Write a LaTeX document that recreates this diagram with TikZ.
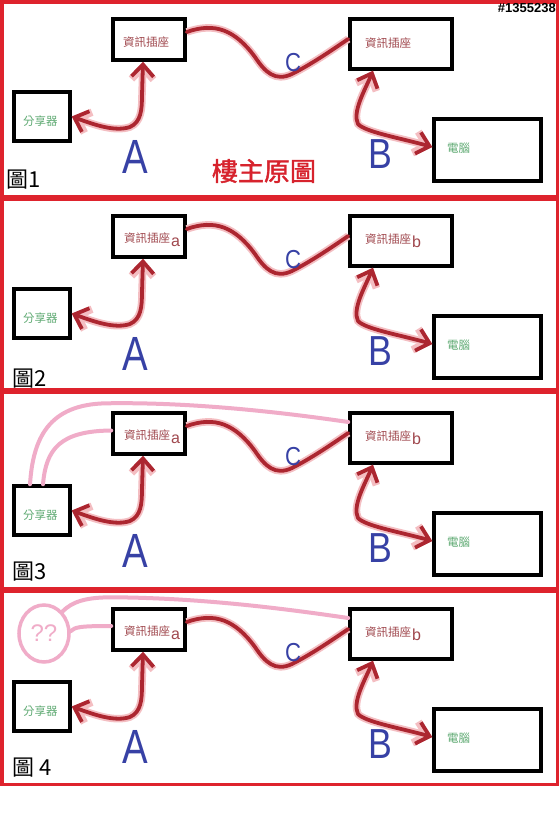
\documentclass[tikz,border=0pt]{standalone}
\usepackage{fontspec}
\newfontfamily\cjk{Noto Sans CJK TC}
\newfontfamily\cjkbold[FakeBold=1.6]{Noto Sans CJK TC}
\newfontfamily\lsans{Liberation Sans}
\usetikzlibrary{arrows.meta,shapes.geometric}
\definecolor{framered}{RGB}{222,35,45}
\definecolor{wirered}{RGB}{172,38,48}
\definecolor{wireglow}{RGB}{244,190,194}
\definecolor{pinkline}{RGB}{240,172,200}
\definecolor{handblue}{RGB}{55,65,165}
\definecolor{socktxt}{RGB}{160,72,78}
\definecolor{devtxt}{RGB}{95,170,115}
\definecolor{titlered}{RGB}{215,35,45}
\tikzset{
 box/.style={draw=black, line width=3.5pt, inner sep=0pt, rectangle},
 redwire/.style={draw=wirered, line width=3.8pt, line cap=round, line join=round,
   preaction={draw=wireglow, line width=7.5pt}},
 dbl/.style={{Straight Barb[length=12pt,width=22pt]}-{Straight Barb[length=12pt,width=22pt]}},
 pinkwire/.style={draw=pinkline, line width=4pt, line cap=round},
 panelframe/.style={draw=framered, line width=3.5pt},
 socktext/.style={text=socktxt, font=\cjk\fontsize{11.5}{12}\selectfont, inner sep=0pt, anchor=base west},
 devtext/.style={text=devtxt, font=\cjk\fontsize{11.5}{12}\selectfont, inner sep=0pt, anchor=base west},
 figlabel/.style={text=black, font=\cjk\fontsize{22}{22}\selectfont, inner sep=0pt, anchor=base west},
 handletter/.style={text=handblue, inner sep=0pt},
}
\begin{document}
\begin{tikzpicture}[x=1pt,y=-1pt]
\fill[white] (0,0) rectangle (559,830);
\useasboundingbox (0,0) rectangle (559,830);
% panel frames
\draw[panelframe] (1.75,1.75) rectangle (557.25,196.5);
\draw[panelframe] (1.75,199.5) rectangle (557.25,389.5);
\draw[panelframe] (1.75,392.5) rectangle (557.25,588.5);
\draw[panelframe] (1.75,591.5) rectangle (557.25,784.5);
\foreach \k/\off in {1/0,2/197,3/394,4/590}{
\begin{scope}[shift={(0,\off)}]
 \node[box, minimum width=72pt, minimum height=41pt] (sockL\k) at (149,39.5) {};
 \node[box, minimum width=102pt, minimum height=50pt] (sockR\k) at (401,44) {};
 \node[box, minimum width=56pt, minimum height=49pt] (router\k) at (42,116.5) {};
 \node[box, minimum width=107pt, minimum height=62pt] (pc\k) at (487.5,150) {};
 \ifnum\k=1
  \node[socktext] (tL\k) at (123,46) {資訊插座};
  \node[socktext] (tR\k) at (365,47) {資訊插座};
 \else
  \node[socktext] (tL\k) at (124,45) {資訊插座\hspace{1pt}\raisebox{-4.5pt}{\lsans\fontsize{16}{16}\selectfont a}};
  \node[socktext] (tR\k) at (365,46.5) {資訊插座\hspace{1pt}\raisebox{-4pt}{\lsans\fontsize{16}{16}\selectfont b}};
 \fi
 \node[devtext] (tRt\k) at (23,125) {分享器};
 \node[devtext] (tPC\k) at (447,152) {電腦};
 % connectors
 \draw[redwire, dbl] (router\k.east) .. controls (95,125) and (115,132) .. (130,127)
   .. controls (141,122) and (142,110) .. (142,95) -- ([xshift=-6pt]sockL\k.south);
 \draw[redwire] ([yshift=7.5pt]sockL\k.east) .. controls (215,22) and (235,30) .. (255,57)
   .. controls (265,72) and (275,82) .. (292,74)
   .. controls (312,64) and (335,48) .. ([yshift=5pt]sockR\k.west);
 \draw[redwire, dbl] ([xshift=-28pt]sockR\k.south) .. controls (365,90) and (352,112) .. (358,124)
   .. controls (365,132) and (400,138) .. ([yshift=3pt]pc\k.west);
 % hand letters
 \node[handletter, font=\lsans\fontsize{48}{48}\selectfont, xscale=0.8] (lblA\k) at (135,157) {A};
 \node[handletter, font=\lsans\fontsize{42}{42}\selectfont, xscale=0.85] (lblB\k) at (380,154) {B};
 \node[handletter, font=\lsans\fontsize{26}{26}\selectfont, xscale=0.85] (lblC\k) at (293,62.5) {C};
\end{scope}
}
% figure labels
\node[figlabel] (fig1) at (6,187) {圖1};
\node[figlabel] (fig2) at (12,386.5) {圖2};
\node[figlabel] (fig3) at (12,579.5) {圖3};
\node[figlabel] (fig4) at (12,775.5) {圖 4};
% title and watermark
\node[text=titlered, font=\cjkbold\fontsize{26}{26}\selectfont, inner sep=0pt] (title) at (264,171) {樓主原圖};
\node[text=black, font=\lsans\bfseries\fontsize{13}{13}\selectfont, inner sep=0pt, anchor=east] (wm) at (556,8.5) {\#1355238};
% panel 3 extra pink cables
\begin{scope}[shift={(0,394)}]
 \draw[pinkwire] ([xshift=-12pt]router3.north) .. controls (33,45) and (48,10) .. (107,9.3)
   .. controls (190,8) and (280,18) .. ([yshift=16pt]sockR3.west);
 \draw[pinkwire] ([xshift=1pt]router3.north) .. controls (46,55) and (60,37) .. ([yshift=3pt]sockL3.west);
\end{scope}
% panel 4 unknown device
\begin{scope}[shift={(0,590)}]
 \node[draw=pinkline, line width=3.5pt, ellipse, minimum width=50pt, minimum height=57pt, inner sep=0pt,
   text=pinkline, font=\lsans\fontsize{24}{24}\selectfont] (qq) at (44,43.5) {??};
 \draw[pinkwire] (qq.50) .. controls (72,12) and (85,7) .. (114,7.3)
   .. controls (200,8) and (280,18) .. ([yshift=16pt]sockR4.west);
 \draw[pinkwire] (qq.5) .. controls (75,37) and (80,36) .. ([yshift=3.5pt]sockL4.west);
\end{scope}
\end{tikzpicture}
\end{document}
